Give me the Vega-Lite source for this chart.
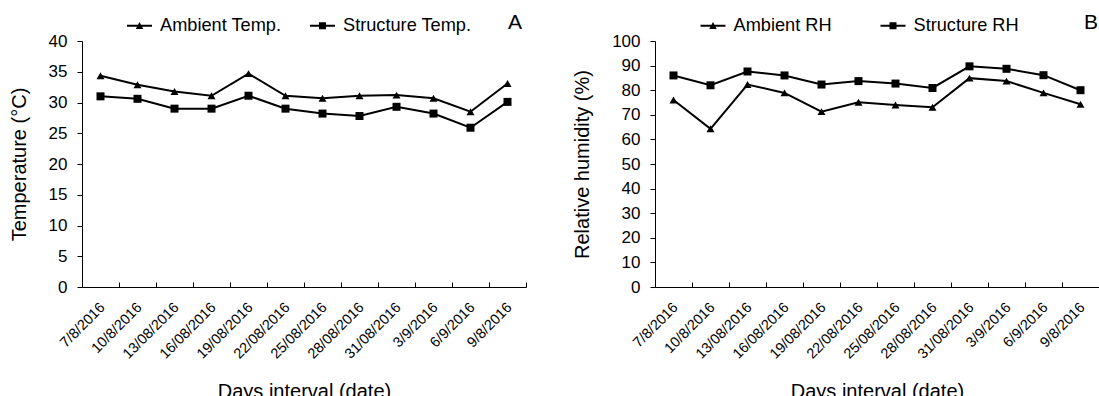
{
  "$schema": "https://vega.github.io/schema/vega-lite/v6.json",
  "background": "white",
  "padding": {"left": 9, "top": 12, "right": 0, "bottom": 0},
  "spacing": 45,
  "resolve": {"scale": {"shape": "independent"}, "legend": {"shape": "independent"}},
  "config": {
    "font": "Liberation Sans",
    "view": {"stroke": null},
    "axis": {
      "grid": false,
      "domainColor": "black",
      "tickColor": "black",
      "labelColor": "black",
      "titleColor": "black",
      "titleFontWeight": "normal",
      "labelFont": "Liberation Sans",
      "titleFont": "Liberation Sans"
    },
    "axisY": {"labelFontSize": 17, "titleFontSize": 20, "tickSize": 5, "labelPadding": 10, "titlePadding": 19},
    "axisX": {"labelFontSize": 14.5, "titleFontSize": 20, "tickSize": -5, "labelPadding": 18, "labelOffset": -3, "titlePadding": 21, "labelAngle": -45, "labelAlign": "right", "labelBaseline": "top"},
    "legend": {
      "orient": "none",
      "direction": "horizontal",
      "padding": 0,
      "labelFont": "Liberation Sans",
      "labelFontSize": 18.2,
      "labelColor": "black",
      "symbolSize": 625,
      "symbolStrokeWidth": 0,
      "symbolFillColor": "black",
      "labelOffset": 8
    },
    "title": {"font": "Liberation Sans", "fontSize": 21, "fontWeight": "normal", "color": "black", "anchor": "end", "frame": "group", "baseline": "alphabetic", "offset": -20}
  },
  "datasets": {
    "temp": [
      {"date": "7/8/2016", "series": "Ambient Temp.", "value": 34.35},
      {"date": "10/8/2016", "series": "Ambient Temp.", "value": 32.9},
      {"date": "13/08/2016", "series": "Ambient Temp.", "value": 31.8},
      {"date": "16/08/2016", "series": "Ambient Temp.", "value": 31.1},
      {"date": "19/08/2016", "series": "Ambient Temp.", "value": 34.7},
      {"date": "22/08/2016", "series": "Ambient Temp.", "value": 31.1},
      {"date": "25/08/2016", "series": "Ambient Temp.", "value": 30.7},
      {"date": "28/08/2016", "series": "Ambient Temp.", "value": 31.1},
      {"date": "31/08/2016", "series": "Ambient Temp.", "value": 31.2},
      {"date": "3/9/2016", "series": "Ambient Temp.", "value": 30.7},
      {"date": "6/9/2016", "series": "Ambient Temp.", "value": 28.5},
      {"date": "9/8/2016", "series": "Ambient Temp.", "value": 33.1},
      {"date": "7/8/2016", "series": "Structure Temp.", "value": 31.0},
      {"date": "10/8/2016", "series": "Structure Temp.", "value": 30.6},
      {"date": "13/08/2016", "series": "Structure Temp.", "value": 29.0},
      {"date": "16/08/2016", "series": "Structure Temp.", "value": 29.0},
      {"date": "19/08/2016", "series": "Structure Temp.", "value": 31.1},
      {"date": "22/08/2016", "series": "Structure Temp.", "value": 29.0},
      {"date": "25/08/2016", "series": "Structure Temp.", "value": 28.2},
      {"date": "28/08/2016", "series": "Structure Temp.", "value": 27.8},
      {"date": "31/08/2016", "series": "Structure Temp.", "value": 29.3},
      {"date": "3/9/2016", "series": "Structure Temp.", "value": 28.2},
      {"date": "6/9/2016", "series": "Structure Temp.", "value": 25.9},
      {"date": "9/8/2016", "series": "Structure Temp.", "value": 30.1}
    ],
    "rh": [
      {"date": "7/8/2016", "series": "Ambient RH", "value": 76.0},
      {"date": "10/8/2016", "series": "Ambient RH", "value": 64.3},
      {"date": "13/08/2016", "series": "Ambient RH", "value": 82.3},
      {"date": "16/08/2016", "series": "Ambient RH", "value": 78.9},
      {"date": "19/08/2016", "series": "Ambient RH", "value": 71.3},
      {"date": "22/08/2016", "series": "Ambient RH", "value": 75.1},
      {"date": "25/08/2016", "series": "Ambient RH", "value": 74.0},
      {"date": "28/08/2016", "series": "Ambient RH", "value": 73.1},
      {"date": "31/08/2016", "series": "Ambient RH", "value": 84.9},
      {"date": "3/9/2016", "series": "Ambient RH", "value": 83.7},
      {"date": "6/9/2016", "series": "Ambient RH", "value": 78.9},
      {"date": "9/8/2016", "series": "Ambient RH", "value": 74.3},
      {"date": "7/8/2016", "series": "Structure RH", "value": 86.0},
      {"date": "10/8/2016", "series": "Structure RH", "value": 82.0},
      {"date": "13/08/2016", "series": "Structure RH", "value": 87.6},
      {"date": "16/08/2016", "series": "Structure RH", "value": 86.0},
      {"date": "19/08/2016", "series": "Structure RH", "value": 82.3},
      {"date": "22/08/2016", "series": "Structure RH", "value": 83.7},
      {"date": "25/08/2016", "series": "Structure RH", "value": 82.7},
      {"date": "28/08/2016", "series": "Structure RH", "value": 80.9},
      {"date": "31/08/2016", "series": "Structure RH", "value": 89.7},
      {"date": "3/9/2016", "series": "Structure RH", "value": 88.7},
      {"date": "6/9/2016", "series": "Structure RH", "value": 86.1},
      {"date": "9/8/2016", "series": "Structure RH", "value": 80.0}
    ]
  },
  "hconcat": [
    {
      "width": 444,
      "height": 246,
      "title": {"text": "A", "dx": -4},
      "data": {"name": "temp"},
      "encoding": {
        "x": {"field": "date", "type": "nominal", "sort": null, "scale": {"type": "band", "paddingInner": 0, "paddingOuter": 0}, "axis": {"title": "Days interval (date)", "tickBand": "extent"}},
        "y": {"field": "value", "type": "quantitative", "scale": {"domain": [0, 40]}, "axis": {"title": "Temperature (°C)", "values": [0, 5, 10, 15, 20, 25, 30, 35, 40]}}
      },
      "resolve": {"scale": {"shape": "independent"}, "legend": {"shape": "independent"}},
      "layer": [
        {"mark": {"type": "line", "color": "black", "strokeWidth": 2}, "encoding": {"detail": {"field": "series"}}},
        {
          "mark": {"type": "point", "filled": true, "color": "black", "opacity": 1, "size": 64},
          "encoding": {
            "shape": {"field": "series", "type": "nominal", "scale": {"domain": ["Ambient Temp.", "Structure Temp."], "range": ["triangle-up", "square"]}, "legend": null}
          }
        },
        {
          "mark": {"type": "point", "filled": true, "color": "black", "opacity": 1, "size": 0},
          "encoding": {
            "shape": {"field": "series", "type": "nominal",
              "scale": {"domain": ["Ambient Temp.", "Structure Temp."], "range": ["M-1,-0.08H1V0.08H-1ZM0,-0.3L0.3,0.26L-0.3,0.26Z", "M-1,-0.08H1V0.08H-1ZM-0.28,-0.28H0.28V0.28H-0.28Z"]},
              "legend": {"title": null, "legendX": 45, "legendY": -28, "columnPadding": 28}}
          }
        }
      ]
    },
    {
      "width": 444,
      "height": 246,
      "title": {"text": "B", "dx": -1},
      "data": {"name": "rh"},
      "encoding": {
        "x": {"field": "date", "type": "nominal", "sort": null, "scale": {"type": "band", "paddingInner": 0, "paddingOuter": 0}, "axis": {"title": "Days interval (date)", "tickBand": "extent"}},
        "y": {"field": "value", "type": "quantitative", "scale": {"domain": [0, 100]}, "axis": {"title": "Relative humidity (%)", "values": [0, 10, 20, 30, 40, 50, 60, 70, 80, 90, 100]}}
      },
      "resolve": {"scale": {"shape": "independent"}, "legend": {"shape": "independent"}},
      "layer": [
        {"mark": {"type": "line", "color": "black", "strokeWidth": 2}, "encoding": {"detail": {"field": "series"}}},
        {
          "mark": {"type": "point", "filled": true, "color": "black", "opacity": 1, "size": 64},
          "encoding": {
            "shape": {"field": "series", "type": "nominal", "scale": {"domain": ["Ambient RH", "Structure RH"], "range": ["triangle-up", "square"]}, "legend": null}
          }
        },
        {
          "mark": {"type": "point", "filled": true, "color": "black", "opacity": 1, "size": 0},
          "encoding": {
            "shape": {"field": "series", "type": "nominal",
              "scale": {"domain": ["Ambient RH", "Structure RH"], "range": ["M-1,-0.08H1V0.08H-1ZM0,-0.3L0.3,0.26L-0.3,0.26Z", "M-1,-0.08H1V0.08H-1ZM-0.28,-0.28H0.28V0.28H-0.28Z"]},
              "legend": {"title": null, "legendX": 45.5, "legendY": -28, "columnPadding": 48}}
          }
        }
      ]
    }
  ]
}
